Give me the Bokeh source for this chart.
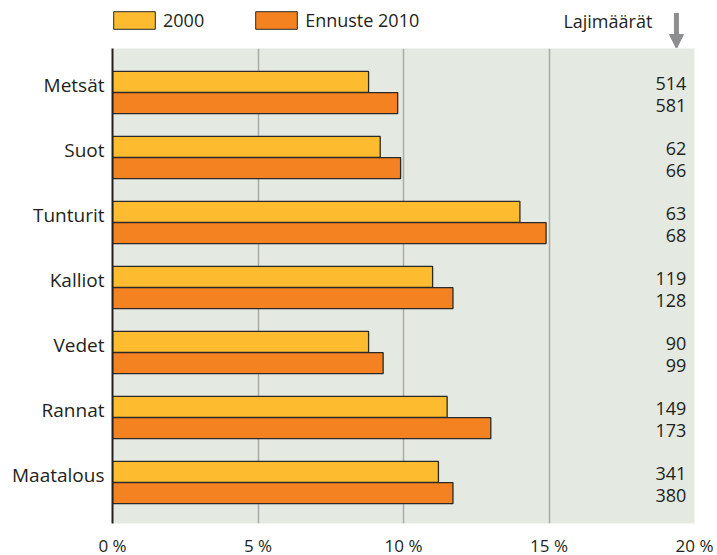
from bokeh.plotting import figure
from bokeh.layouts import column
from bokeh.models import (Range1d, FixedTicker, Legend, LegendItem, Label, Arrow,
                          NormalHead, ColumnDataSource)
from bokeh.transform import dodge
from bokeh.core.properties import value
from bokeh.embed import file_html
from bokeh.resources import INLINE

categories = ["Metsät", "Suot", "Tunturit", "Kalliot", "Vedet", "Rannat", "Maatalous"]
share_2000 = [8.8, 9.2, 14.0, 11.0, 8.8, 11.5, 11.2]
share_2010 = [9.8, 9.9, 14.9, 11.7, 9.3, 13.0, 11.7]
count_2000 = [514, 62, 63, 119, 90, 149, 341]
count_2010 = [581, 66, 68, 128, 99, 173, 380]
x_ticks = [0, 5, 10, 15, 20]
x_tick_labels = ["0 %", "5 %", "10 %", "15 %", "20 %"]
series_names = ["2000", "Ennuste 2010"]
count_title = "Lajimäärät"

FONT = "Open Sans"
FS = "18px"
TXT = "#231F20"
C2000 = "#FDBB30"
C2010 = "#F58220"
BG = "#E4E9E1"
GRID = "#A9ACA8"
ARROW = "#8C8E90"
EDGE = "#2A2A2A"

# layout (pixels)
LEFT, FRAME_W, RIGHT = 112, 582, 23
HEAD_H, FRAME_H, BOTTOM = 48, 475, 32
X0, X1 = 0, 20

n = len(categories)
pos = list(range(n))
src = ColumnDataSource(dict(
    pos=pos,
    a=share_2000,
    b=share_2010,
    ca=[str(v) for v in count_2000],
    cb=[str(v) for v in count_2010],
    cx=[19.72] * n,
))

off = 0.163
hgt = 0.323

# ---------- header strip: legend, column title, arrow ----------
head = figure(frame_width=FRAME_W, frame_height=HEAD_H, output_backend="svg",
              toolbar_location=None, title=None, x_axis_location=None, y_axis_location=None,
              x_range=Range1d(X0, X1), y_range=Range1d(0, 1),
              min_border_left=LEFT, min_border_right=RIGHT, min_border_top=0,
              min_border_bottom=0)
head.grid.visible = False
head.outline_line_color = None
head.background_fill_color = "white"
head.border_fill_color = "white"

h1 = head.hbar(y="pos", right="a", left=0, height=hgt, source=src, fill_color=C2000,
               line_color=EDGE, line_width=1, visible=False)
h2 = head.hbar(y="pos", right="b", left=0, height=hgt, source=src, fill_color=C2010,
               line_color=EDGE, line_width=1, visible=False)
legend = Legend(items=[LegendItem(label=series_names[0], renderers=[h1]),
                       LegendItem(label=series_names[1], renderers=[h2])],
                orientation="horizontal", location=(-4, 16),
                glyph_width=52, glyph_height=22, label_standoff=3, spacing=46,
                padding=0, margin=0, border_line_color=None, background_fill_alpha=0,
                inactive_fill_alpha=0,
                label_text_font=FONT, label_text_font_size=FS, label_text_color=TXT,
                label_height=22)
head.add_layout(legend)

head.add_layout(Label(x=18.55, y=0.58, text=count_title, text_align="right",
                      text_baseline="middle", text_font=FONT, text_font_size=FS,
                      text_color=TXT))
head.add_layout(Arrow(x_start=19.38, y_start=0.74, x_end=19.38, y_end=0.0,
                      line_color=ARROW, line_width=5,
                      end=NormalHead(size=14, fill_color=ARROW, line_color=ARROW)))

# ---------- main chart ----------
p = figure(frame_width=FRAME_W, frame_height=FRAME_H, output_backend="svg",
           toolbar_location=None, title=None,
           x_range=Range1d(X0, X1), y_range=Range1d(6.63, -0.677),
           min_border_left=LEFT, min_border_right=RIGHT, min_border_top=0,
           min_border_bottom=BOTTOM)
p.background_fill_color = BG
p.border_fill_color = "white"
p.outline_line_color = None

p.hbar(y=dodge("pos", -off), right="a", left=0, height=hgt, source=src,
       fill_color=C2000, line_color=EDGE, line_width=1.3)
p.hbar(y=dodge("pos", off), right="b", left=0, height=hgt, source=src,
       fill_color=C2010, line_color=EDGE, line_width=1.3)

p.text(x="cx", y=dodge("pos", -off), text="ca", source=src, text_align="right",
       text_baseline="middle", y_offset=2, text_font=value(FONT), text_font_size=FS,
       text_color=TXT)
p.text(x="cx", y=dodge("pos", off), text="cb", source=src, text_align="right",
       text_baseline="middle", y_offset=2, text_font=value(FONT), text_font_size=FS,
       text_color=TXT)

p.xgrid.ticker = FixedTicker(ticks=x_ticks)
p.xgrid.grid_line_color = GRID
p.xgrid.grid_line_width = 1.5
p.ygrid.visible = False

p.xaxis.ticker = FixedTicker(ticks=x_ticks)
p.xaxis.major_label_overrides = {t: l for t, l in zip(x_ticks, x_tick_labels)}
p.xaxis.axis_line_color = None
p.xaxis.major_tick_line_color = None
p.xaxis.minor_tick_line_color = None
p.xaxis.major_tick_out = 0
p.xaxis.major_tick_in = 0
p.xaxis.major_label_standoff = 10
p.xaxis.major_label_text_font = FONT
p.xaxis.major_label_text_font_size = "17px"
p.xaxis.major_label_text_color = TXT

ytick = [i - 0.12 for i in pos]
p.yaxis.ticker = FixedTicker(ticks=ytick)
p.yaxis.major_label_overrides = {t: c for t, c in zip(ytick, categories)}
p.yaxis.axis_line_color = "#231F20"
p.yaxis.axis_line_width = 2
p.yaxis.major_tick_line_color = None
p.yaxis.minor_tick_line_color = None
p.yaxis.major_tick_out = 0
p.yaxis.major_tick_in = 0
p.yaxis.major_label_standoff = 8
p.yaxis.major_label_text_font = FONT
p.yaxis.major_label_text_font_size = "19px"
p.yaxis.major_label_text_color = TXT

layout = column(head, p, spacing=0)
open("out.html", "w").write(file_html(layout, INLINE))
